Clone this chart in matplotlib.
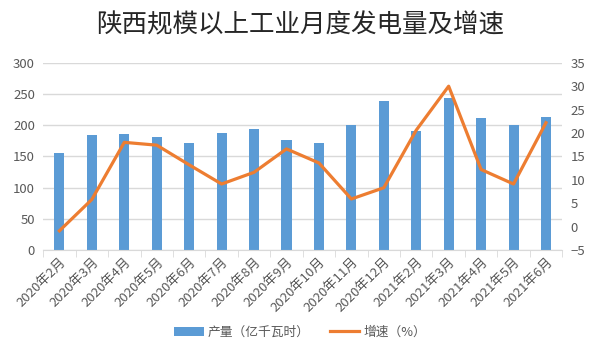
import matplotlib
matplotlib.use("Agg")
import matplotlib.pyplot as plt
import numpy as np

plt.rcParams['font.family'] = ['Noto Sans CJK SC', 'DejaVu Sans']

categories = ["2020年2月", "2020年3月", "2020年4月", "2020年5月", "2020年6月", "2020年7月",
              "2020年8月", "2020年9月", "2020年10月", "2020年11月", "2020年12月", "2021年2月",
              "2021年3月", "2021年4月", "2021年5月", "2021年6月"]
output = [156, 185, 186, 181, 172, 187, 194, 176, 172, 201, 239, 190, 244, 212, 200, 213]
growth = [-0.9, 5.8, 18.0, 17.4, 13.2, 9.1, 11.6, 16.6, 13.6, 5.9, 8.3, 20.6, 30.0, 12.2, 9.1, 22.2]

gray = '#595959'
grid = '#d9d9d9'

fig = plt.figure(figsize=(6, 3.59), dpi=100)
ax = fig.add_axes([0.072, 0.3036, 0.865, 0.5215])
x = np.arange(len(categories))
bars = ax.bar(x, output, width=0.31, color='#5b9bd5', zorder=2, label='产量（亿千瓦时）')
ax.set_ylim(0, 300)
ax.set_yticks(range(0, 301, 50))
ax.set_xlim(-0.5, len(categories) - 0.5)
ax.grid(axis='y', color=grid, linewidth=1, zorder=0)
for s in ['top', 'right', 'left']:
    ax.spines[s].set_visible(False)
ax.spines['bottom'].set_color(grid)
ax.tick_params(axis='y', length=0, labelcolor=gray, labelsize=9.5, pad=6)
ax.set_xticks(x)
ax.set_xticklabels(categories, rotation=45, ha='right', rotation_mode='anchor',
                   color=gray, fontsize=9.5)
ax.tick_params(axis='x', length=0, pad=4)
ax.set_xticks(np.arange(-0.5, len(categories), 1), minor=True)
ax.tick_params(axis='x', which='minor', length=5, color=grid)

ax2 = ax.twinx()
line, = ax2.plot(x, growth, color='#ed7d31', linewidth=2.3, zorder=3, label='增速（%）')
ax2.set_ylim(-5, 35)
ax2.set_yticks(range(-5, 36, 5))
for s in ['top', 'right', 'left', 'bottom']:
    ax2.spines[s].set_visible(False)
ax2.tick_params(axis='y', length=0, labelcolor=gray, labelsize=9.5, pad=6)

fig.text(0.5, 0.93, '陕西规模以上工业月度发电量及增速', ha='center', va='center',
         fontsize=18.4, color='#262626')

fig.legend([bars, line], ['产量（亿千瓦时）', '增速（%）'], loc='center',
           bbox_to_anchor=(0.5, 0.075), ncol=2, frameon=False, fontsize=9.2,
           labelcolor=gray, handlelength=2.3, columnspacing=1.6, handletextpad=0.3)

fig.savefig('out.png', dpi=100)
